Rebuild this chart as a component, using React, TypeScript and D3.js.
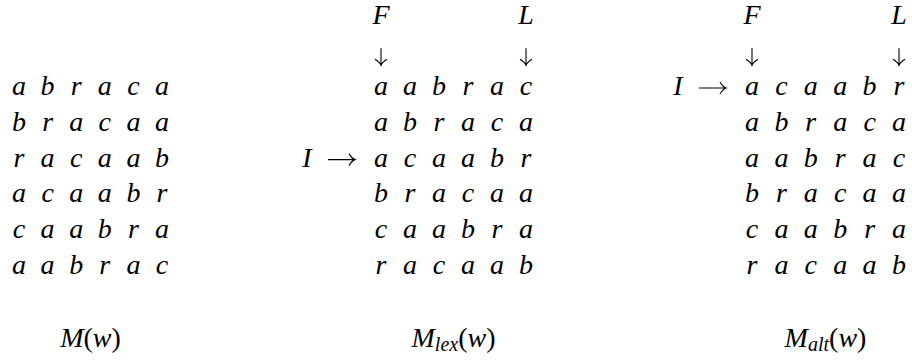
import React from 'react';
import * as d3 from 'd3';

// rotations of "abraca", as they stand in each matrix
const mRows = ['abraca', 'bracaa', 'racaab', 'acaabr', 'caabra', 'aabrac'];
const mLexRows = ['aabrac', 'abraca', 'acaabr', 'bracaa', 'caabra', 'racaab'];
const mAltRows = ['acaabr', 'abraca', 'aabrac', 'bracaa', 'caabra', 'racaab'];

const panelNames = ['M', 'M', 'M'];
const panelSubs = ['', 'lex', 'alt'];
const panelRows = [mRows, mLexRows, mAltRows];
const panelIndexRow = [-1, 2, 0]; // row marked with I ->, -1 = none
const panelMarks = [false, true, true]; // F / L columns
const panelX0 = [19, 381, 752];
const panelX1 = [162, 526, 899];

const W = 912;
const H = 360;
const SIZE = 28;
const FONT = 'Liberation Serif';

// CM-like arrows, drawn as paths
const downArrow = (cx: number, top: number, len: number) => {
  const b = top + len;
  return `M${cx},${top} L${cx},${b} M${cx - 6},${b - 6} Q${cx - 1},${b - 3} ${cx},${b} Q${cx + 1},${b - 3} ${cx + 6},${b - 6}`;
};
const rightArrow = (left: number, cy: number, len: number) => {
  const r = left + len;
  return `M${left},${cy} L${r},${cy} M${r - 6},${cy - 6} Q${r - 3},${cy - 1} ${r},${cy} Q${r - 3},${cy + 1} ${r - 6},${cy + 6}`;
};

const App = () => {
  const y = d3.scaleLinear().domain([-2, 5]).range([23.5, 274]);
  const labelY = 347;

  return (
    <svg
      width={W}
      height={H}
      style={{ position: 'absolute', left: 0, top: 0, background: '#fff' }}
      fontFamily={FONT}
      fontSize={SIZE}
    >
      {panelRows.map((rows, p) => {
        const x = d3.scaleLinear().domain([0, 5]).range([panelX0[p], panelX1[p]]);
        const mid = (panelX0[p] + panelX1[p]) / 2;
        return (
          <g key={p}>
            {rows.map((row, i) =>
              row.split('').map((ch, j) => (
                <text key={i + '-' + j} x={x(j)} y={y(i)} textAnchor="middle" fontStyle="italic">
                  {ch}
                </text>
              ))
            )}
            {panelMarks[p] && (
              <g>
                <text x={x(0)} y={y(-2)} textAnchor="middle" fontStyle="italic">F</text>
                <text x={x(5)} y={y(-2)} textAnchor="middle" fontStyle="italic">L</text>
                <path d={downArrow(x(0), y(-1) - 11, 17)} fill="none" stroke="#000" strokeWidth={1.1} />
                <path d={downArrow(x(5), y(-1) - 11, 17)} fill="none" stroke="#000" strokeWidth={1.1} />
              </g>
            )}
            {panelIndexRow[p] >= 0 && (
              <g>
                <text x={x(0) - 74} y={y(panelIndexRow[p])} textAnchor="middle" fontStyle="italic">I</text>
                <path
                  d={rightArrow(x(0) - 53, y(panelIndexRow[p]) - 7, 27)}
                  fill="none"
                  stroke="#000"
                  strokeWidth={1.1}
                />
              </g>
            )}
            <text x={mid} y={labelY} textAnchor="middle">
              <tspan fontStyle="italic">{panelNames[p]}</tspan>
              {panelSubs[p] && (
                <tspan fontStyle="italic" fontSize={20} dy={4}>{panelSubs[p]}</tspan>
              )}
              <tspan dy={panelSubs[p] ? -4 : 0}>(</tspan>
              <tspan fontStyle="italic">w</tspan>
              <tspan>)</tspan>
            </text>
          </g>
        );
      })}
    </svg>
  );
};

export default App;
